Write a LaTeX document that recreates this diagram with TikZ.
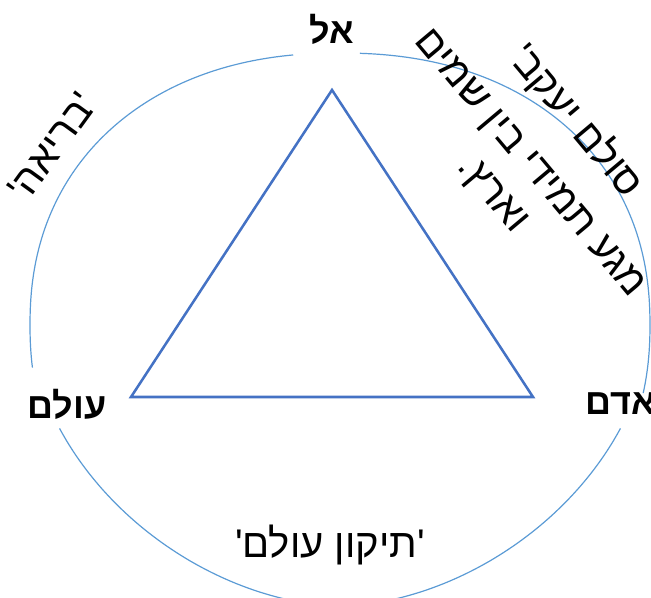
\documentclass[tikz,border=0pt]{standalone}
\usepackage{fontspec}
\TeXXeTstate=1
\newfontfamily\hebsans[Script=Hebrew]{Liberation Sans}
\definecolor{circ}{HTML}{5B9BD5}
\definecolor{tri}{HTML}{4472C4}
\tikzset{
  cyclearc/.style={draw=circ, line width=0.9pt},
  triline/.style={draw=tri, line width=1.9pt, line join=miter},
  vertexlbl/.style={font=\hebsans\bfseries\fontsize{27}{32}\selectfont, inner sep=0pt},
  arclbl/.style={font=\hebsans\fontsize{30}{36}\selectfont, inner sep=0pt},
}
\begin{document}
\begin{tikzpicture}[x=0.75pt,y=-0.75pt]
\useasboundingbox (0,0) rectangle (651,598);
% cycle arcs (rounded ellipse centre 340,325)
\draw[cyclearc] plot[domain=-12.6:87.2, samples=100]
  ({340+310*cos(\x)*(abs(cos(\x))+0.0001)^(-0.0909)},{325-272*sin(\x)*(abs(sin(\x))+0.0001)^(-0.0909)});
\draw[cyclearc] plot[domain=97.2:187.5, samples=100]
  ({340+310*cos(\x)*(abs(cos(\x))+0.0001)^(-0.0909)},{325-272*sin(\x)*(abs(sin(\x))+0.0001)^(-0.0909)});
\draw[cyclearc] plot[domain=204:336, samples=130]
  ({340+310*cos(\x)*(abs(cos(\x))+0.0001)^(0.1111)},{325-281*sin(\x)*(abs(sin(\x))+0.0001)^(0.1111)});
% triangle
\coordinate (A) at (332,90);
\coordinate (B) at (131,397);
\coordinate (C) at (533,397);
\draw[triline] (A) -- (B) -- (C) -- cycle;
% vertex labels
\node[vertexlbl] (el) at (332,29) {\beginR אל\endR};
\node[vertexlbl] (olam) at (67,404) {\beginR עולם\endR};
\node[vertexlbl, anchor=west] (adam) at (585,404) {\beginR אדם\endR};
% arc labels
\node[arclbl, rotate=54] (bria) at (52,146) {\beginR'בריאה'\endR};
\node[arclbl, rotate=-50] (sulam) at (576,121) {\beginR סולם יעקב'\endR};
\node[arclbl, rotate=-50, align=center] (maga) at (510,180) {\beginR מגע תמידי בין שמים\endR\\\beginR וארץ.\endR};
\node[arclbl] (tikun) at (330,545) {\beginR'תיקון עולם'\endR};
\end{tikzpicture}
\end{document}
